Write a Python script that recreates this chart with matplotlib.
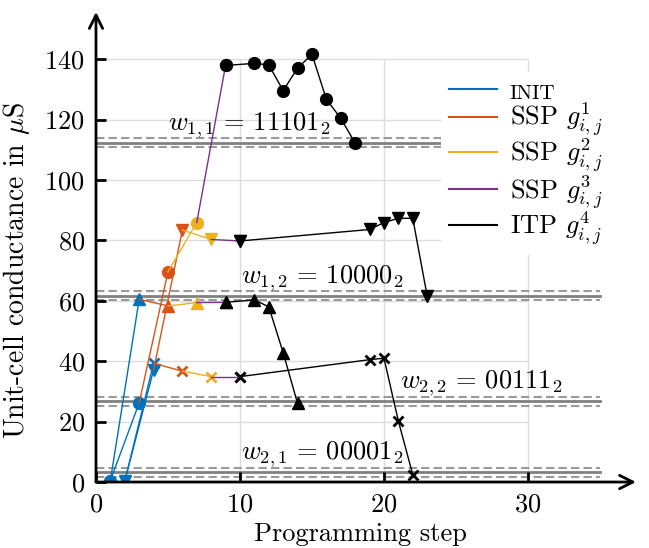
import matplotlib
matplotlib.use("Agg")
import matplotlib.pyplot as plt

plt.rcParams['font.family'] = 'serif'
plt.rcParams['font.serif'] = ['cmr10']
plt.rcParams['mathtext.fontset'] = 'cm'
plt.rcParams['axes.formatter.use_mathtext'] = True
plt.rcParams['font.size'] = 19

# phase colours (MATLAB-like palette)
phases = ['INIT', 'SSP1', 'SSP2', 'SSP3', 'ITP']
phase_colors = ['#0072BD', '#D95319', '#EDB120', '#7E2F8E', 'black']
phase_labels = ['INIT', r'SSP $g^1_{i,j}$', r'SSP $g^2_{i,j}$', r'SSP $g^3_{i,j}$', r'ITP $g^4_{i,j}$']

# cell w_{1,1} (circles)
w11_steps = [1, 3, 5, 7, 9, 11, 12, 13, 14, 15, 16, 17, 18]
w11_vals = [0.5, 26.2, 69.6, 85.9, 137.9, 138.6, 138.1, 129.6, 137.0, 141.6, 126.7, 120.4, 112.2]
w11_phase = ['INIT', 'INIT', 'SSP1', 'SSP2', 'SSP3'] + ['ITP'] * 8

# cell w_{1,2} (down triangles)
w12_steps = [2, 4, 6, 8, 10, 19, 20, 21, 22, 23]
w12_vals = [0.3, 37.1, 83.4, 80.3, 79.8, 83.6, 85.9, 87.3, 87.3, 61.6]
w12_phase = ['INIT', 'INIT', 'SSP1', 'SSP2', 'SSP3'] + ['ITP'] * 5

# cell w_{2,2} (up triangles)
w22_steps = [1, 3, 5, 7, 9, 11, 12, 13, 14]
w22_vals = [0.5, 60.5, 58.3, 59.4, 59.5, 60.3, 58.0, 42.8, 26.0]
w22_phase = ['INIT', 'INIT', 'SSP1', 'SSP2', 'SSP3'] + ['ITP'] * 4

# cell w_{2,1} (crosses)
w21_steps = [2, 4, 6, 8, 10, 19, 20, 21, 22]
w21_vals = [0.3, 39.3, 36.7, 34.9, 34.9, 40.5, 41.0, 20.2, 2.4]
w21_phase = ['INIT', 'INIT', 'SSP1', 'SSP2', 'SSP3'] + ['ITP'] * 4

# target levels
target_names = [r'$w_{1,1}\,=\,11101_2$', r'$w_{1,2}\,=\,10000_2$',
                r'$w_{2,2}\,=\,00111_2$', r'$w_{2,1}\,=\,00001_2$']
target_levels = [112.3, 61.6, 26.8, 3.3]
target_label_x = [5.0, 10.1, 21.1, 10.1]
tolerance = 1.5

cells = [
    (w11_steps, w11_vals, w11_phase, 'o'),
    (w12_steps, w12_vals, w12_phase, 'v'),
    (w22_steps, w22_vals, w22_phase, '^'),
    (w21_steps, w21_vals, w21_phase, 'x'),
]

fig = plt.figure(figsize=(6.49, 5.48), dpi=100)
ax = fig.add_axes([0.1479, 0.1204, 0.832, 0.8577])
ax.set_xlim(0, 37.5)
ax.set_ylim(0, 155.6)

# grid only over the tick range
ax.hlines(range(20, 141, 20), 0, 30, color='#dcdcdc', lw=1, zorder=0)
ax.vlines([10, 20, 30], 0, 140, color='#dcdcdc', lw=1, zorder=0)

# target bands
for name, lev, lx in zip(target_names, target_levels, target_label_x):
    ax.plot([0, 35], [lev, lev], color='#808080', lw=2, zorder=1)
    ax.plot([0, 35], [lev + tolerance] * 2, color='#9a9a9a', lw=1.5, ls=(0, (4, 2)), zorder=1)
    ax.plot([0, 35], [lev - tolerance] * 2, color='#9a9a9a', lw=1.5, ls=(0, (4, 2)), zorder=1)
    ax.text(lx, lev + 1.0, name, ha='left', va='bottom', fontsize=19)

# programming trajectories, phase by phase
for k, (ph, col) in enumerate(zip(phases, phase_colors)):
    for steps, vals, phs, mk in cells:
        idx = [i for i, p in enumerate(phs) if p == ph]
        mev = None
        if k > 0:
            idx = [idx[0] - 1] + idx
            if ph != 'ITP':
                mev = slice(1, None)
        xs = [steps[i] for i in idx]
        ys = [vals[i] for i in idx]
        ms = 7 if mk == 'x' else 8.5
        ax.plot(xs, ys, color=col, lw=1, marker=mk, markersize=ms, markevery=mev,
                markeredgewidth=2 if mk == 'x' else 1, zorder=3 + k)

# legend handles: lines only
handles = [plt.Line2D([], [], color=c, lw=1.5) for c in phase_colors]
leg = ax.legend(handles, phase_labels, loc='upper left', bbox_to_anchor=(0.615, 0.9),
                frameon=True, fancybox=False, edgecolor='none', facecolor='white', framealpha=1,
                handlelength=1.8, handletextpad=0.5, labelspacing=-0.05, borderpad=0.3, fontsize=19)
leg.set_zorder(10)
leg.get_texts()[0].set_fontsize(15)

# axis styling: arrows instead of spines
for s in ax.spines.values():
    s.set_visible(False)
ax.annotate('', xy=(1, 0), xytext=(0, 0), xycoords='axes fraction',
            arrowprops=dict(arrowstyle='->', lw=2, color='k', shrinkA=0, shrinkB=0, mutation_scale=24))
ax.annotate('', xy=(0, 1), xytext=(0, 0), xycoords='axes fraction',
            arrowprops=dict(arrowstyle='->', lw=2, color='k', shrinkA=0, shrinkB=0, mutation_scale=24))

ax.set_xticks([0, 10, 20, 30])
ax.set_yticks(range(0, 141, 20))
ax.tick_params(direction='in', length=7, width=2, labelsize=19, pad=8)

ax.set_xlabel('Programming step', fontsize=19)
ax.set_ylabel(r'Unit-cell conductance in $\mu$S', fontsize=20)
ax.yaxis.set_label_coords(-0.118, 0.45)
ax.xaxis.set_label_coords(0.49, -0.085)

fig.savefig('out.png', dpi=100)
